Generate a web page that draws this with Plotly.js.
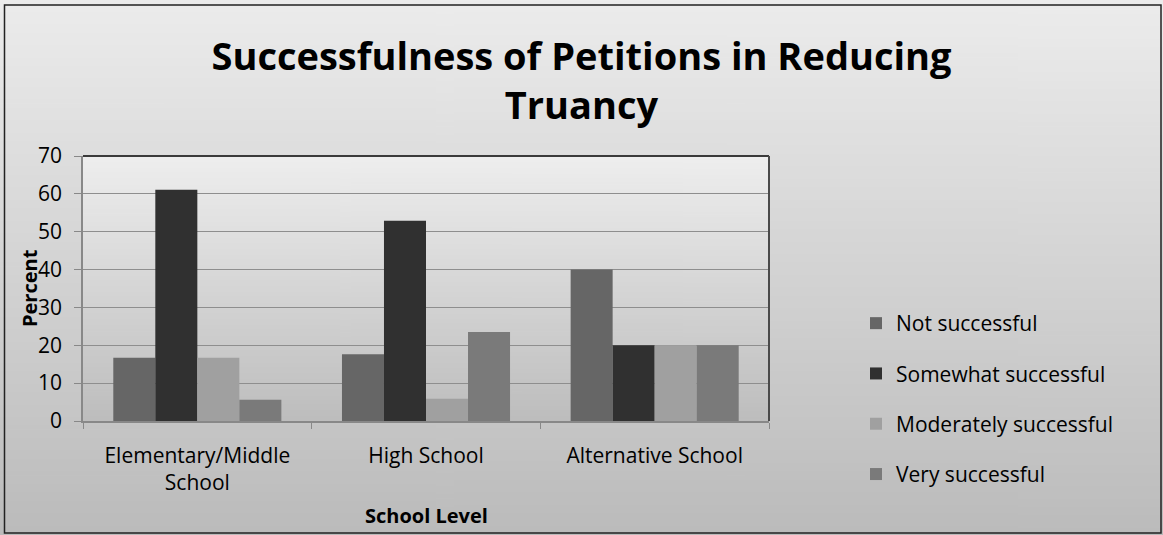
<!DOCTYPE html>
<html>
<head>
<meta charset="utf-8">
<script src="https://cdn.plot.ly/plotly-3.0.1.min.js"></script>
<style>
html,body{margin:0;padding:0;background:#fff;}
#chart{width:1163px;height:535px;}
</style>
</head>
<body>
<div id="chart"></div>
<script>
// ---- data ----
var categories = ["Elementary/Middle<br>School", "High School", "Alternative School"];
var seriesNames = ["Not successful", "Somewhat successful", "Moderately successful", "Very successful"];
var notSuccessful = [16.7, 17.6, 40];
var somewhatSuccessful = [61.1, 52.9, 20];
var moderatelySuccessful = [16.7, 5.9, 20];
var verySuccessful = [5.6, 23.5, 20];
var yTicks = [0, 10, 20, 30, 40, 50, 60, 70];

// ---- styles ----
var seriesValues = [notSuccessful, somewhatSuccessful, moderatelySuccessful, verySuccessful];
var colors = ["#666666", "#303030", "#a0a0a0", "#7a7a7a"];
var W = 1163, H = 535;
var L = 83, R = 769, T = 156, B = 421;
var pw = R - L, ph = B - T;

function gradURL(top, bottom) {
  var c = document.createElement('canvas');
  c.width = 4; c.height = 256;
  var g = c.getContext('2d');
  var gr = g.createLinearGradient(0, 0, 0, 256);
  gr.addColorStop(0, top); gr.addColorStop(1, bottom);
  g.fillStyle = gr; g.fillRect(0, 0, 4, 256);
  return c.toDataURL();
}
function px(x) { return (x - L) / pw; }
function py(y) { return (B - y) / ph; }

var traces = seriesNames.map(function (n, i) {
  return {
    type: 'bar', name: n, x: categories, y: seriesValues[i],
    marker: {color: colors[i], line: {width: 0}},
    legendgroup: 'g' + i, hoverinfo: 'y+name'
  };
});

var layout = {
  width: W, height: H,
  margin: {l: L, r: W - R, t: T, b: H - B, pad: 0},
  paper_bgcolor: 'rgba(0,0,0,0)',
  plot_bgcolor: 'rgba(0,0,0,0)',
  font: {family: 'Open Sans, sans-serif', color: '#000'},
  barmode: 'group', bargap: 0.265, bargroupgap: 0,
  title: {
    text: '<b>Successfulness of Petitions in Reducing<br>Truancy</b>',
    font: {size: 38, family: 'Open Sans, sans-serif', color: '#000'},
    x: 0.5, xref: 'container', xanchor: 'center',
    y: 1 - 70 / H, yref: 'container', yanchor: 'top'
  },
  xaxis: {
    type: 'category', tickson: 'boundaries', ticks: 'outside', ticklen: 6,
    tickcolor: '#888', showline: true, linecolor: '#888', linewidth: 1.5,
    showgrid: false, tickfont: {size: 21}, ticklabelstandoff: 15,
    automargin: false, fixedrange: true
  },
  yaxis: {
    range: [0, 70], tickvals: yTicks, ticks: 'outside', ticklen: 7,
    tickcolor: '#888', showline: true, linecolor: '#888', linewidth: 1.5,
    showgrid: true, gridcolor: '#8e8e8e', gridwidth: 1.2, ticklabelstandoff: 8,
    tickfont: {size: 21}, zeroline: false, automargin: false, fixedrange: true
  },
  legend: {
    x: px(856), xanchor: 'left', y: py(303), yanchor: 'top',
    bgcolor: 'rgba(0,0,0,0)', font: {size: 21},
    traceorder: 'grouped', tracegroupgap: 20
  },
  annotations: [{
    text: '<b>Percent</b>', textangle: -90, showarrow: false,
    xref: 'paper', yref: 'paper', x: px(29), y: py(288),
    xanchor: 'center', yanchor: 'middle', font: {size: 20}
  }, {
    text: '<b>School Level</b>', showarrow: false,
    xref: 'paper', yref: 'paper', x: 0.5, y: py(515),
    xanchor: 'center', yanchor: 'middle', font: {size: 20}
  }],
  images: [
    {source: gradURL('#ececec', '#bbbbbb'), xref: 'paper', yref: 'paper',
     x: px(0), y: py(0), sizex: W / pw, sizey: H / ph, xanchor: 'left', yanchor: 'top',
     sizing: 'stretch', layer: 'below'},
    {source: gradURL('#eeeeee', '#bdbdbd'), xref: 'paper', yref: 'paper',
     x: 0, y: 1, sizex: 1, sizey: 1, xanchor: 'left', yanchor: 'top',
     sizing: 'stretch', layer: 'below'}
  ],
  shapes: [
    {type: 'line', xref: 'paper', yref: 'paper', x0: 0, x1: 1, y0: 1, y1: 1,
     line: {color: '#3a3a3a', width: 2}},
    {type: 'line', xref: 'paper', yref: 'paper', x0: 1, x1: 1, y0: 0, y1: 1,
     line: {color: '#4a4a4a', width: 2}},
    {type: 'rect', xref: 'paper', yref: 'paper', x0: px(4.5), x1: px(1161), y0: py(5), y1: py(533),
     line: {color: '#222', width: 1.5}, layer: 'above'}
  ],
  showlegend: true
};

Plotly.newPlot('chart', traces, layout, {displayModeBar: false, staticPlot: false});
</script>
</body>
</html>
